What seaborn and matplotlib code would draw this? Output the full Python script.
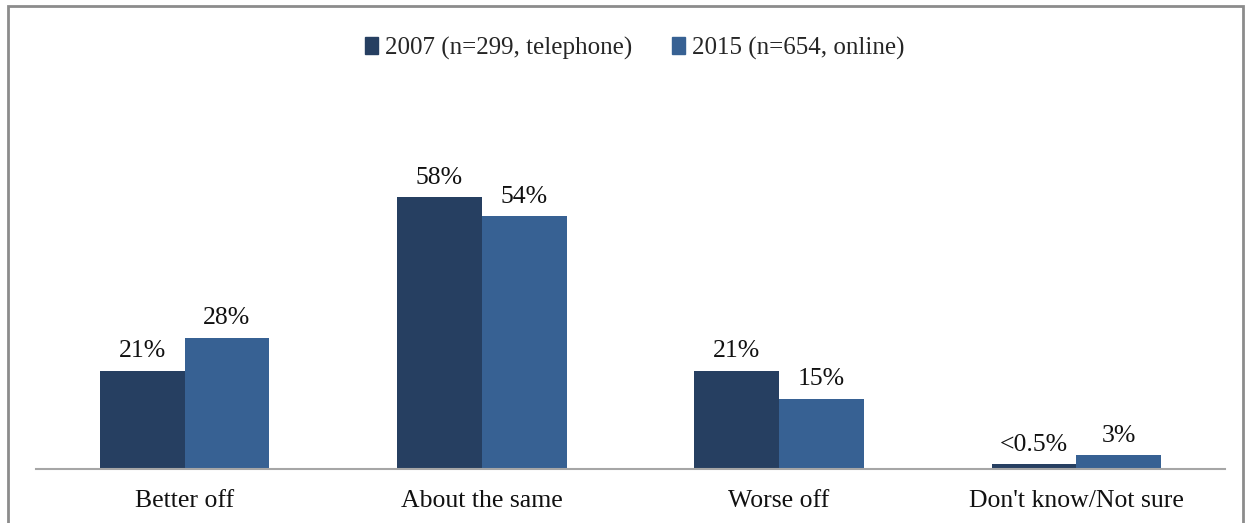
import numpy as np
import pandas as pd
import seaborn as sns
import matplotlib.pyplot as plt
from matplotlib.patches import Rectangle

categories = ["Better off", "About the same", "Worse off", "Don't know/Not sure"]
series = ["2007 (n=299, telephone)", "2015 (n=654, online)"]
values_2007 = [21, 58, 21, 1]
values_2015 = [28, 54, 15, 3]
labels_2007 = ["21%", "58%", "21%", "<0.5%"]
labels_2015 = ["28%", "54%", "15%", "3%"]
colors = ["#263f61", "#376193"]

df = pd.DataFrame({
    "category": categories * 2,
    "series": [series[0]] * 4 + [series[1]] * 4,
    "value": values_2007 + values_2015,
})

sns.set_style("white")
plt.rcParams['font.family'] = ['Liberation Serif', 'DejaVu Serif']

fig = plt.figure(figsize=(12.49, 5.23), dpi=100)
ax = fig.add_axes([36 / 1249, (523 - 469) / 523, 1189 / 1249, 328 / 523])

sns.barplot(data=df, x="category", y="value", hue="series", order=categories,
            hue_order=series, palette=colors, width=0.57, saturation=1,
            linewidth=0, legend=False, ax=ax)

ax.set_ylim(0, 70)
ax.set_xlim(-0.5, 3.5)
ax.set_xlabel("")
ax.set_ylabel("")
ax.set_yticks([])
ax.tick_params(axis="x", length=0, labelsize=18.5, pad=15, labelcolor="#111111")
for s in ["top", "right", "left"]:
    ax.spines[s].set_visible(False)
ax.spines["bottom"].set_color("#a6a6a6")
ax.spines["bottom"].set_linewidth(1.5)

# value labels
for container, labels in zip(ax.containers, [labels_2007, labels_2015]):
    ax.bar_label(container, labels=labels, padding=6, fontsize=18.5, color="#111111")

# legend
handles = [Rectangle((0, 0), 1, 1, color=c) for c in colors]
fig.legend(handles, series, loc="center", bbox_to_anchor=(635 / 1249, 1 - 48 / 523),
           ncol=2, frameon=False, fontsize=18, handlelength=0.5, handleheight=0.7,
           handletextpad=0.3, columnspacing=1.6)

# chart frame
frame = Rectangle((8 / 1249, -0.05), (1243 - 8) / 1249, (523 - 6 + 26) / 523,
                  transform=fig.transFigure, fill=False, edgecolor="#8c8c8c", lw=2)
fig.patches.append(frame)

fig.savefig("out.png", dpi=100)
